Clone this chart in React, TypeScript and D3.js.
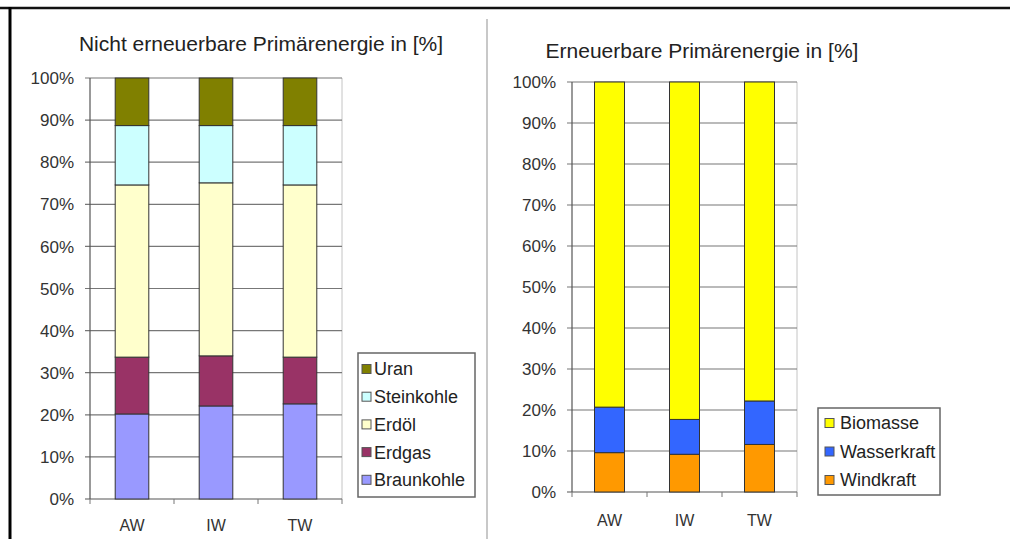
import React from "react";
import * as d3 from "d3";

// categories and data (percent shares)
const categories = ["AW", "IW", "TW"];
const yTicks = [0, 10, 20, 30, 40, 50, 60, 70, 80, 90, 100];

const fossilKeys = ["Braunkohle", "Erdgas", "Erdöl", "Steinkohle", "Uran"];
const braunkohle = [20.2, 22.1, 22.6];
const erdgas = [13.5, 11.9, 11.1];
const erdoel = [40.9, 41.1, 40.9];
const steinkohle = [14.1, 13.6, 14.1];
const uran = [11.3, 11.3, 11.3];
const fossilColors = ["#9999ff", "#993366", "#ffffcc", "#ccffff", "#808000"];

const renewKeys = ["Windkraft", "Wasserkraft", "Biomasse"];
const windkraft = [9.6, 9.2, 11.6];
const wasserkraft = [11.1, 8.5, 10.6];
const biomasse = [79.3, 82.3, 77.8];
const renewColors = ["#ff9900", "#3366ff", "#ffff00"];

const FONT = "'Liberation Sans', Arial, sans-serif";

type PanelProps = {
  title: string;
  titleX: number;
  titleY: number;
  keys: string[];
  series: number[][];
  colors: string[];
  x0: number;
  x1: number;
  yTop: number;
  yBottom: number;
  labelY: number;
  legend: { x: number; y: number; w: number; h: number; firstY: number; step: number; swX: number; txX: number };
};

function Panel(p: PanelProps) {
  const rows = categories.map((c, i) => {
    const r: any = { cat: c };
    p.keys.forEach((k, j) => (r[k] = p.series[j][i]));
    return r;
  });
  const stacked = d3.stack().keys(p.keys)(rows);
  const x = d3.scaleBand().domain(categories).range([p.x0, p.x1]).paddingInner(0.6).paddingOuter(0.3);
  const band = d3.scaleBand().domain(categories).range([p.x0, p.x1]);
  const y = d3.scaleLinear().domain([0, 100]).range([p.yBottom, p.yTop]);
  const color = d3.scaleOrdinal<string>().domain(p.keys).range(p.colors);
  const legendKeys = [...p.keys].reverse();

  return (
    <g fontFamily={FONT}>
      <text x={p.titleX} y={p.titleY} textAnchor="middle" fontSize={21} fill="#222">
        {p.title}
      </text>
      {/* plot border */}
      <line x1={p.x1} x2={p.x1} y1={p.yTop} y2={p.yBottom} stroke="#c4c4c4" />
      {/* gridlines */}
      {yTicks.map((t) => (
        <line key={t} x1={p.x0 - 5} x2={p.x1} y1={y(t)} y2={y(t)} stroke={t === 0 ? "#555" : "#777"} strokeWidth={1.2} />
      ))}
      {yTicks.map((t) => (
        <text key={"l" + t} x={p.x0 - 16} y={y(t)} dy="0.36em" textAnchor="end" fontSize={17} fill="#333">
          {t + "%"}
        </text>
      ))}
      {/* bars */}
      {stacked.map((s) => (
        <g key={s.key}>
          {s.map((d, i) => (
            <rect
              key={i}
              x={x(categories[i])}
              width={x.bandwidth()}
              y={y(d[1])}
              height={y(d[0]) - y(d[1])}
              fill={color(s.key)}
              stroke="#333"
              strokeWidth={1}
            />
          ))}
        </g>
      ))}
      {/* axes */}
      <line x1={p.x0} x2={p.x0} y1={p.yTop} y2={p.yBottom} stroke="#555" strokeWidth={1.2} />
      {[...categories.map((c) => band(c) as number), p.x1].map((v, i) => (
        <line key={"xt" + i} x1={v} x2={v} y1={p.yBottom} y2={p.yBottom + 5} stroke="#777" />
      ))}
      {categories.map((c) => (
        <text key={c} x={(x(c) as number) + x.bandwidth() / 2} y={p.labelY} textAnchor="middle" fontSize={16} fill="#333">
          {c}
        </text>
      ))}
      {/* legend */}
      <rect x={p.legend.x} y={p.legend.y} width={p.legend.w} height={p.legend.h} fill="#fff" stroke="#666" strokeWidth={1.5} />
      {legendKeys.map((k, i) => {
        const cy = p.legend.firstY + i * p.legend.step;
        return (
          <g key={k}>
            <rect x={p.legend.swX} y={cy - 4.5} width={9} height={9} fill={color(k)} stroke="#555" />
            <text x={p.legend.txX} y={cy} dy="0.36em" fontSize={18} fill="#222">
              {k}
            </text>
          </g>
        );
      })}
    </g>
  );
}

export default function App() {
  return (
    <svg width={1010} height={539} style={{ position: "absolute", left: 0, top: 0, background: "#fff" }}>
      <rect width={1010} height={539} fill="#fff" />
      {/* frame */}
      <line x1={0} x2={1010} y1={8} y2={8} stroke="#111" strokeWidth={2.5} />
      <line x1={10} x2={10} y1={7} y2={539} stroke="#000" strokeWidth={3} />
      <line x1={487} x2={487} y1={19} y2={539} stroke="#c8c8c8" strokeWidth={2} />
      <Panel
        title="Nicht erneuerbare Primärenergie in [%]"
        titleX={261}
        titleY={51}
        keys={fossilKeys}
        series={[braunkohle, erdgas, erdoel, steinkohle, uran]}
        colors={fossilColors}
        x0={90}
        x1={342}
        yTop={78}
        yBottom={499}
        labelY={531}
        legend={{ x: 358, y: 353, w: 117, h: 144, firstY: 369, step: 27.7, swX: 362, txX: 374 }}
      />
      <Panel
        title="Erneuerbare Primärenergie in [%]"
        titleX={702}
        titleY={58}
        keys={renewKeys}
        series={[windkraft, wasserkraft, biomasse]}
        colors={renewColors}
        x0={572}
        x1={797}
        yTop={82}
        yBottom={492}
        labelY={526}
        legend={{ x: 818, y: 408, w: 122, h: 87, firstY: 423, step: 28.5, swX: 825, txX: 840 }}
      />
    </svg>
  );
}
